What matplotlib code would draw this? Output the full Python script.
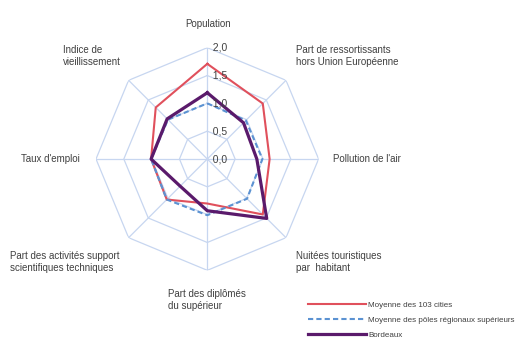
import numpy as np
import matplotlib
matplotlib.use("Agg")
import matplotlib.pyplot as plt

plt.rcParams["font.family"] = ["Liberation Sans", "DejaVu Sans"]

categories = [
    "Population",
    "Part de ressortissants\nhors Union Européenne",
    "Pollution de l'air",
    "Nuitées touristiques\npar  habitant",
    "Part des diplômés\ndu supérieur",
    "Part des activités support\nscientifiques techniques",
    "Taux d'emploi",
    "Indice de\nvieillissement",
]
moyenne_103 = [1.71, 1.41, 1.12, 1.41, 0.80, 1.03, 1.01, 1.31]
poles_regionaux = [1.00, 0.98, 0.99, 1.01, 1.01, 1.03, 1.01, 1.00]
bordeaux = [1.19, 0.92, 0.89, 1.51, 0.93, 0.69, 1.01, 1.02]
r_ticks = [0.0, 0.5, 1.0, 1.5, 2.0]
series_names = [
    "Moyenne des 103 cities",
    "Moyenne des pôles régionaux supérieurs",
    "Bordeaux",
]

W, H = 520, 353
fig = plt.figure(figsize=(W / 100, H / 100), dpi=100)

# polar axes centred at (207, 159) px with radius 111 px
cx, cy, rad = 207.3, 159, 111.3
ax = fig.add_axes([(cx - rad) / W, (H - cy - rad) / H, 2 * rad / W, 2 * rad / H],
                  projection="polar")
ax.set_theta_zero_location("N")
ax.set_theta_direction(-1)
ax.set_ylim(0, 2.0)
ax.grid(False)
ax.spines["polar"].set_visible(False)
ax.set_xticks([])
ax.set_yticks([])
ax.patch.set_alpha(0)

n = len(categories)
angles = np.linspace(0, 2 * np.pi, n, endpoint=False)
closed = np.append(angles, angles[0])

grid_color = "#c7d6f0"
for r in r_ticks[1:]:
    ax.plot(closed, [r] * (n + 1), color=grid_color, lw=0.9, zorder=1)
for a in angles:
    ax.plot([a, a], [0, r_ticks[-1]], color=grid_color, lw=0.9, zorder=1)

def close(v):
    return list(v) + [v[0]]

ax.plot(closed, close(moyenne_103), color="#e0505c", lw=1.5, zorder=3,
        label=series_names[0])
ax.plot(closed, close(poles_regionaux), color="#5b92d2", lw=1.5, ls=(0, (2.5, 1.5)),
        zorder=3, label=series_names[1])
ax.plot(closed, close(bordeaux), color="#5a1a6b", lw=2.3, zorder=4,
        label=series_names[2])

for r in r_ticks:
    ax.text(0, r, "  " + f"{r:.1f}".replace(".", ","), ha="left", va="center",
            fontsize=7.5, color="#404040", zorder=5)

# category labels (pixel positions, top-left origin)
label_pos = [
    (208, 24, "center"),
    (296, 56, "left"),
    (333, 159, "left"),
    (296, 262, "left"),
    (168, 300, "left"),
    (10, 262, "left"),
    (80, 159, "right"),
    (63, 56, "left"),
]
for text, (x, y, ha) in zip(categories, label_pos):
    fig.text(x / W, 1 - y / H, text, ha=ha, va="center", fontsize=7,
             color="#404040", linespacing=1.3)

ax.legend(loc="upper left", bbox_to_anchor=(308 / W, 1 - 301 / H),
          bbox_transform=fig.transFigure, frameon=False, fontsize=5.8,
          handlelength=7.2, handletextpad=0.3, labelspacing=0.95,
          borderaxespad=0, borderpad=0, labelcolor="#404040")

fig.savefig("out.png", dpi=100)
